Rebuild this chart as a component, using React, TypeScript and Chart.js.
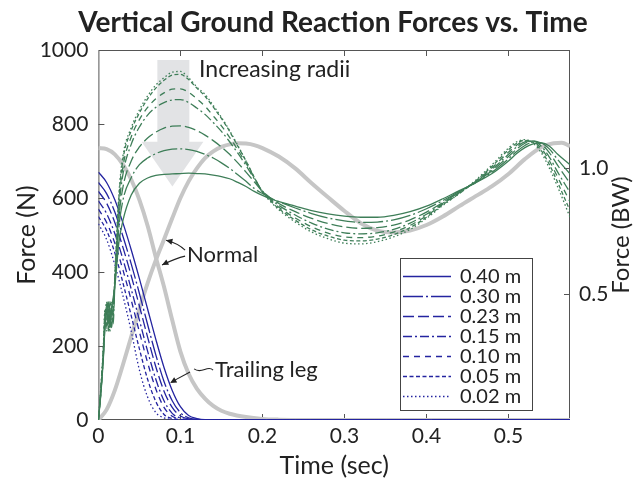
import React, { useEffect, useRef } from "react";
import { Chart, registerables } from "chart.js";
Chart.register(...registerables);

// ---------- DATA ----------
const RADII = ["0.40 m", "0.30 m", "0.23 m", "0.15 m", "0.10 m", "0.05 m", "0.02 m"];

// leading leg (green) time base, s
const T_LEAD = [0, 0.003, 0.006, 0.008, 0.01, 0.012, 0.014, 0.016, 0.018, 0.02, 0.025, 0.03, 0.04, 0.05, 0.06, 0.07, 0.08, 0.09, 0.1, 0.11, 0.12, 0.13, 0.14, 0.15, 0.16, 0.17, 0.18, 0.19, 0.2, 0.21, 0.22, 0.24, 0.26, 0.28, 0.3, 0.32, 0.34, 0.36, 0.38, 0.4, 0.42, 0.44, 0.46, 0.48, 0.5, 0.51, 0.52, 0.53, 0.54, 0.55, 0.56, 0.575];

const LEAD_040 = [0, 70, 165, 250, 290, 320, 260, 300, 330, 360, 480, 540, 608, 640, 654, 661, 664, 665, 666, 667, 666, 665, 662, 658, 652, 642, 631, 618, 607, 598, 590, 578, 566, 557, 551, 548, 548, 553, 563, 578, 598, 620, 641, 666, 700, 720, 736, 746, 749, 740, 718, 690];
const LEAD_030 = [0, 75, 170, 255, 300, 250, 320, 290, 260, 360, 520, 595, 655, 690, 708, 720, 728, 732, 733, 731, 726, 718, 708, 695, 680, 663, 645, 626, 612, 600, 590, 573, 558, 546, 538, 534, 535, 541, 553, 571, 593, 618, 642, 670, 706, 726, 742, 751, 749, 732, 704, 665];
const LEAD_023 = [0, 75, 175, 260, 310, 280, 250, 300, 320, 365, 545, 630, 700, 738, 762, 778, 789, 794, 795, 791, 782, 770, 755, 738, 718, 695, 670, 644, 618, 600, 585, 563, 545, 531, 522, 518, 520, 527, 541, 562, 588, 617, 643, 674, 712, 732, 748, 754, 746, 722, 688, 640];
const LEAD_015 = [0, 80, 180, 270, 320, 260, 300, 250, 310, 370, 570, 665, 745, 792, 824, 845, 858, 865, 866, 858, 843, 826, 804, 780, 752, 721, 688, 652, 619, 598, 580, 554, 532, 516, 506, 503, 506, 515, 532, 556, 586, 616, 644, 678, 718, 738, 752, 754, 740, 710, 670, 615];
const LEAD_010 = [0, 80, 185, 280, 300, 240, 310, 260, 300, 375, 585, 685, 765, 812, 845, 868, 884, 894, 895, 886, 868, 848, 822, 795, 764, 730, 694, 655, 618, 595, 575, 546, 522, 505, 495, 493, 497, 508, 526, 552, 584, 614, 645, 682, 724, 743, 754, 752, 734, 700, 656, 590];
const LEAD_005 = [0, 85, 190, 290, 250, 320, 240, 300, 280, 380, 600, 705, 782, 830, 868, 897, 918, 932, 934, 920, 897, 875, 846, 815, 780, 740, 700, 656, 616, 592, 571, 540, 514, 497, 486, 484, 489, 501, 520, 548, 582, 612, 646, 686, 730, 748, 756, 750, 728, 690, 642, 566];
const LEAD_002 = [0, 90, 200, 300, 240, 310, 250, 320, 290, 390, 610, 715, 790, 838, 876, 905, 925, 940, 942, 925, 900, 880, 850, 818, 782, 742, 700, 655, 615, 590, 568, 535, 508, 490, 478, 476, 482, 495, 515, 545, 580, 612, 648, 690, 735, 752, 758, 748, 722, 680, 630, 548];

// trailing leg (blue) time base, s
const T_TRAIL = [0, 0.01, 0.02, 0.03, 0.04, 0.05, 0.06, 0.07, 0.08, 0.09, 0.1, 0.11, 0.12, 0.13, 0.15, 0.2, 0.3, 0.4, 0.5, 0.575];
const TRAIL_040 = [670, 642, 595, 532, 460, 382, 300, 218, 142, 80, 36, 12, 4, 1, 0, 0, 0, 0, 0, 0];
const TRAIL_030 = [642, 612, 562, 496, 422, 342, 258, 176, 104, 52, 20, 6, 2, 0, 0, 0, 0, 0, 0, 0];
const TRAIL_023 = [618, 586, 534, 466, 390, 308, 224, 144, 78, 34, 11, 3, 1, 0, 0, 0, 0, 0, 0, 0];
const TRAIL_015 = [592, 558, 504, 434, 354, 270, 186, 110, 52, 18, 5, 1, 0, 0, 0, 0, 0, 0, 0, 0];
const TRAIL_010 = [570, 534, 478, 405, 324, 238, 155, 84, 34, 10, 2, 0, 0, 0, 0, 0, 0, 0, 0, 0];
const TRAIL_005 = [550, 512, 452, 370, 282, 192, 110, 50, 15, 4, 1, 0, 0, 0, 0, 0, 0, 0, 0, 0];
const TRAIL_002 = [530, 488, 420, 335, 240, 135, 62, 20, 6, 1, 0, 0, 0, 0, 0, 0, 0, 0, 0, 0];

// normal (gray) curves
const T_NORM_TRAIL = [0, 0.01, 0.02, 0.03, 0.04, 0.05, 0.06, 0.07, 0.08, 0.09, 0.1, 0.11, 0.12, 0.13, 0.14, 0.15, 0.16, 0.18, 0.2, 0.22, 0.25, 0.3, 0.575];
const NORM_TRAIL = [735, 732, 718, 690, 650, 595, 525, 440, 360, 270, 185, 125, 85, 58, 38, 25, 17, 8, 3, 1, 0, 0, 0];
const T_NORM_LEAD = [0, 0.01, 0.02, 0.03, 0.04, 0.05, 0.06, 0.07, 0.08, 0.09, 0.1, 0.11, 0.12, 0.13, 0.14, 0.15, 0.16, 0.17, 0.18, 0.19, 0.2, 0.22, 0.24, 0.26, 0.28, 0.3, 0.32, 0.34, 0.36, 0.38, 0.4, 0.42, 0.44, 0.46, 0.48, 0.5, 0.52, 0.54, 0.555, 0.565, 0.575];
const NORM_LEAD = [0, 28, 80, 150, 225, 300, 370, 432, 488, 545, 600, 645, 680, 708, 726, 738, 745, 748, 747, 743, 735, 712, 680, 640, 602, 565, 532, 512, 507, 512, 527, 550, 578, 605, 632, 665, 705, 737, 748, 749, 740];

const BODY_WEIGHT = 681; // N per BW
const X_MAX = 0.575;
const Y_TICKS_BW = [0.5, 1.0];

// ---------- STYLE ----------
const GREEN = "rgb(62,126,88)";
const BLUE = "rgb(36,36,160)";
const GRAY = "rgb(198,198,198)";
const DASHES: number[][] = [[], [20, 3, 2, 3], [11, 4], [9, 3, 2, 3], [6, 5], [4, 2.5], [1.5, 2.5]];
const FONT = "Lato, 'Open Sans', sans-serif";

const LEAD = [LEAD_040, LEAD_030, LEAD_023, LEAD_015, LEAD_010, LEAD_005, LEAD_002];
const TRAIL = [TRAIL_040, TRAIL_030, TRAIL_023, TRAIL_015, TRAIL_010, TRAIL_005, TRAIL_002];

const pts = (ts: number[], vs: number[]) => ts.map((t, i) => ({ x: t, y: vs[i] }));

const decor = {
  id: "decor",
  beforeDatasetsDraw(chart: any) {
    const { ctx, chartArea: ca, scales } = chart;
    const X = (t: number) => scales.x.getPixelForValue(t);
    const Y = (f: number) => scales.y.getPixelForValue(f);
    ctx.save();
    ctx.fillStyle = "rgba(224,225,228,0.95)";
    ctx.beginPath();
    ctx.moveTo(X(0.0719), Y(973));
    ctx.lineTo(X(0.1109), Y(973));
    ctx.lineTo(X(0.1109), Y(752));
    ctx.lineTo(X(0.128), Y(752));
    ctx.lineTo(X(0.0902), Y(631));
    ctx.lineTo(X(0.0527), Y(752));
    ctx.lineTo(X(0.0719), Y(752));
    ctx.closePath();
    ctx.fill();
    ctx.strokeStyle = "#555";
    ctx.lineWidth = 1;
    ctx.strokeRect(ca.left + 0.5, ca.top + 0.5, ca.right - ca.left - 1, ca.bottom - ca.top - 1);
    const tl = 6;
    ctx.beginPath();
    for (const t of scales.x.ticks) {
      if (t.value <= 0) continue;
      const px = Math.round(X(t.value)) + 0.5;
      ctx.moveTo(px, ca.bottom); ctx.lineTo(px, ca.bottom - tl);
      ctx.moveTo(px, ca.top); ctx.lineTo(px, ca.top + tl);
    }
    for (const t of scales.y.ticks) {
      if (t.value <= 0 || t.value >= 1000) continue;
      const py = Math.round(Y(t.value)) + 0.5;
      ctx.moveTo(ca.left, py); ctx.lineTo(ca.left + tl, py);
    }
    for (const v of Y_TICKS_BW) {
      const py = Math.round(scales.y2.getPixelForValue(v)) + 0.5;
      ctx.moveTo(ca.right, py); ctx.lineTo(ca.right - tl, py);
    }
    ctx.stroke();
    ctx.restore();
  },
  afterDatasetsDraw(chart: any) {
    const { ctx, chartArea: ca, scales } = chart;
    const X = (t: number) => scales.x.getPixelForValue(t);
    const Y = (f: number) => scales.y.getPixelForValue(f);
    ctx.save();
    ctx.fillStyle = "#222";
    ctx.textBaseline = "middle";
    ctx.textAlign = "left";
    ctx.font = `23px ${FONT}`;
    ctx.fillText("Increasing radii", X(0.1227), Y(946));
    ctx.font = `22px ${FONT}`;
    ctx.fillText("Normal", X(0.108), Y(446));
    ctx.fillText("Trailing leg", X(0.1423), Y(135));

    const head = (x: number, y: number, fx: number, fy: number) => {
      const a = Math.atan2(y - fy, x - fx);
      const L = 7, W = 0.45;
      ctx.beginPath();
      ctx.moveTo(x, y);
      ctx.lineTo(x - L * Math.cos(a - W), y - L * Math.sin(a - W));
      ctx.lineTo(x - L * Math.cos(a + W), y - L * Math.sin(a + W));
      ctx.closePath();
      ctx.fill();
    };
    ctx.strokeStyle = "#222";
    ctx.lineWidth = 1.1;
    const curveArrow = (a: number[], c: number[], b: number[]) => {
      ctx.beginPath();
      ctx.moveTo(X(a[0]), Y(a[1]));
      ctx.quadraticCurveTo(X(c[0]), Y(c[1]), X(b[0]), Y(b[1]));
      ctx.stroke();
      head(X(b[0]), Y(b[1]), X(c[0]), Y(c[1]));
    };
    curveArrow([0.1057, 459], [0.0971, 478], [0.0825, 486]);
    curveArrow([0.1057, 443], [0.0947, 438], [0.0776, 419]);
    ctx.beginPath();
    ctx.moveTo(X(0.1398), Y(135));
    ctx.bezierCurveTo(X(0.133), Y(150), X(0.126), Y(122), X(0.1167), Y(138));
    ctx.stroke();
    ctx.beginPath();
    ctx.moveTo(X(0.1117), Y(130));
    ctx.lineTo(X(0.0893), Y(103));
    ctx.stroke();
    head(X(0.0875), Y(100), X(0.1117), Y(130));

    // legend
    const lx = 400, ly = 258, lw = 132, lh = 152;
    ctx.fillStyle = "#fff";
    ctx.fillRect(lx, ly, lw, lh);
    ctx.strokeStyle = "#444";
    ctx.lineWidth = 1;
    ctx.strokeRect(lx + 0.5, ly + 0.5, lw, lh);
    ctx.font = `20px ${FONT}`;
    RADII.forEach((r, i) => {
      const yy = ly + 18 + i * 20;
      ctx.strokeStyle = BLUE;
      ctx.lineWidth = 1.3;
      ctx.setLineDash(DASHES[i]);
      ctx.beginPath();
      ctx.moveTo(lx + 3, yy + 0.5);
      ctx.lineTo(lx + 51, yy + 0.5);
      ctx.stroke();
      ctx.setLineDash([]);
      ctx.fillStyle = "#222";
      ctx.fillText(r, lx + 60, yy + 1);
    });

    // right axis title (reads bottom-to-top)
    ctx.save();
    ctx.translate(621, (ca.top + ca.bottom) / 2);
    ctx.rotate(-Math.PI / 2);
    ctx.textAlign = "center";
    ctx.font = `24px ${FONT}`;
    ctx.fillStyle = "#222";
    ctx.fillText("Force (BW)", 0, 0);
    ctx.restore();

    // title
    ctx.font = `bold 28px ${FONT}`;
    ctx.textAlign = "center";
    ctx.fillStyle = "#222";
    ctx.fillText("Vertical Ground Reaction Forces vs. Time", 333, 23);
    ctx.restore();
  },
};

export default function App() {
  const ref = useRef<HTMLCanvasElement | null>(null);
  useEffect(() => {
    document.body.style.margin = "0";
    const datasets: any[] = [];
    datasets.push({ data: pts(T_NORM_TRAIL, NORM_TRAIL), borderColor: GRAY, borderWidth: 4, order: 30 });
    datasets.push({ data: pts(T_NORM_LEAD, NORM_LEAD), borderColor: GRAY, borderWidth: 4, order: 29 });
    TRAIL.forEach((v, i) =>
      datasets.push({ label: "trail " + RADII[i], data: pts(T_TRAIL, v), borderColor: BLUE, borderWidth: 1.3, borderDash: DASHES[i], order: 20 - i })
    );
    LEAD.forEach((v, i) =>
      datasets.push({ label: "lead " + RADII[i], data: pts(T_LEAD, v), borderColor: GREEN, borderWidth: 1.3, borderDash: DASHES[i], order: 10 - i })
    );
    const chart = new Chart(ref.current!, {
      type: "line",
      data: { datasets },
      plugins: [decor],
      options: {
        animation: false,
        responsive: false,
        parsing: false as any,
        layout: { padding: { top: 50, left: 0, right: 0, bottom: 0 } },
        elements: {
          point: { radius: 0 },
          line: { cubicInterpolationMode: "monotone", borderCapStyle: "butt", borderJoinStyle: "round" },
        },
        plugins: { legend: { display: false }, tooltip: { enabled: false }, title: { display: false } },
        scales: {
          x: {
            type: "linear",
            min: 0,
            max: X_MAX,
            grid: { display: false, drawTicks: false },
            border: { display: false },
            ticks: {
              stepSize: 0.1,
              includeBounds: false,
              maxRotation: 0,
              padding: 4,
              color: "#222",
              font: { family: FONT, size: 21 },
              callback: (v: any) => (Number(v) === 0 ? "0" : Number(v).toFixed(1)),
            },
            title: { display: true, text: "Time (sec)", color: "#222", font: { family: FONT, size: 25 }, padding: { top: 0, bottom: 5 } },
            afterFit: (s: any) => { s.height = 66; },
          },
          y: {
            type: "linear",
            position: "left",
            min: 0,
            max: 1000,
            grid: { display: false, drawTicks: false },
            border: { display: false },
            ticks: { stepSize: 200, padding: 10, color: "#222", font: { family: FONT, size: 21 }, callback: (v: any) => String(v) },
            title: { display: true, text: "Force (N)", color: "#222", font: { family: FONT, size: 25 }, padding: { top: 12, bottom: 0 } },
            afterFit: (s: any) => { s.width = 98.4; },
          },
          y2: {
            type: "linear",
            position: "right",
            min: 0,
            max: 1000 / BODY_WEIGHT,
            grid: { display: false, drawTicks: false },
            border: { display: false },
            ticks: {
              stepSize: 0.5,
              includeBounds: false,
              padding: 9,
              color: "#222",
              font: { family: FONT, size: 21 },
              callback: (v: any) => (Y_TICKS_BW.some((b) => Math.abs(b - Number(v)) < 1e-6) ? Number(v).toFixed(1) : ""),
            },
            title: { display: false },
            afterFit: (s: any) => { s.width = 73; },
          },
        },
      } as any,
    });
    return () => chart.destroy();
  }, []);
  return (
    <div style={{ position: "fixed", left: 0, top: 0, width: 643, height: 486 }}>
      <canvas ref={ref} width={643} height={486} />
    </div>
  );
}
